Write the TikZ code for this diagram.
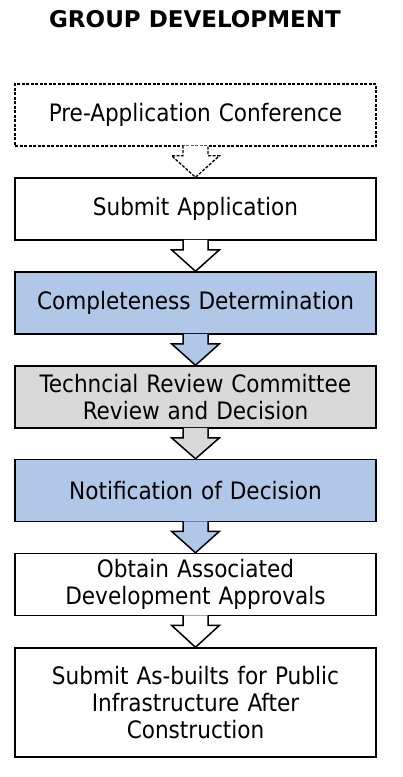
\documentclass[tikz,border=0pt]{standalone}
\usepackage{fontspec}
\setmainfont{DejaVu Sans Condensed}
\newfontfamily\titlefont{DejaVu Sans}
\usepackage{tikz}
\usetikzlibrary{calc}
\definecolor{stepBlue}{HTML}{B0C7E8}
\definecolor{stepGray}{HTML}{D9D9D9}
\tikzset{
  stepbox/.style={draw, line width=1.5pt, minimum width=361pt, minimum height=62pt,
    inner sep=0pt, text width=355pt, align=center, font=\fontsize{24}{27}\selectfont},
  dotbox/.style={dash pattern=on 3pt off 1.5pt, line width=1.3pt},
  flow/.style={draw, line width=1.5pt, line join=miter},
  ttl/.style={font=\titlefont\bfseries\fontsize{23}{26}\selectfont},
}
% block arrow from the bottom of one box to the top of the next
\newcommand{\flowArrow}[3]{%
  \path[flow,#3] ($(#1.south)+(-12.5,-1)$) -- ++(0,10) -- ++(-11.5,0) -- (#2.north)
    -- ($(#1.south)+(24,9)$) -- ++(-11.5,0) -- ++(0,-10);
}

\begin{document}
\begin{tikzpicture}[x=1pt, y=-1pt]
  \useasboundingbox (0,0) rectangle (402,777);
  \node[ttl, anchor=base] (title) at (195,27) {GROUP DEVELOPMENT};

  \node[stepbox, dotbox, fill=white] (pre)  at (195.5,115) {Pre-Application Conference};
  \node[stepbox, fill=white]         (sub)  at (195.5,209) {Submit Application};
  \node[stepbox, fill=stepBlue]      (comp) at (195.5,303) {Completeness Determination};
  \node[stepbox, fill=stepGray]      (trc)  at (195.5,397) {Techncial Review Committee\\Review and Decision};
  \node[stepbox, fill=stepBlue]      (note) at (195.5,490.5) {Notification of Decision};
  \node[stepbox, fill=white]         (obt)  at (195.5,584.5) {Obtain Associated\\Development Approvals};
  \node[stepbox, fill=white, minimum height=109pt] (asb) at (195.5,702.5)
    {Submit As-builts for Public\\Infrastructure After\\Construction};

  \flowArrow{pre}{sub}{fill=white, dotbox}
  \foreach \a/\b/\f in {sub/comp/white, comp/trc/stepBlue, trc/note/stepGray,
      note/obt/stepBlue, obt/asb/white} {
    \flowArrow{\a}{\b}{fill=\f}
  }
\end{tikzpicture}
\end{document}
